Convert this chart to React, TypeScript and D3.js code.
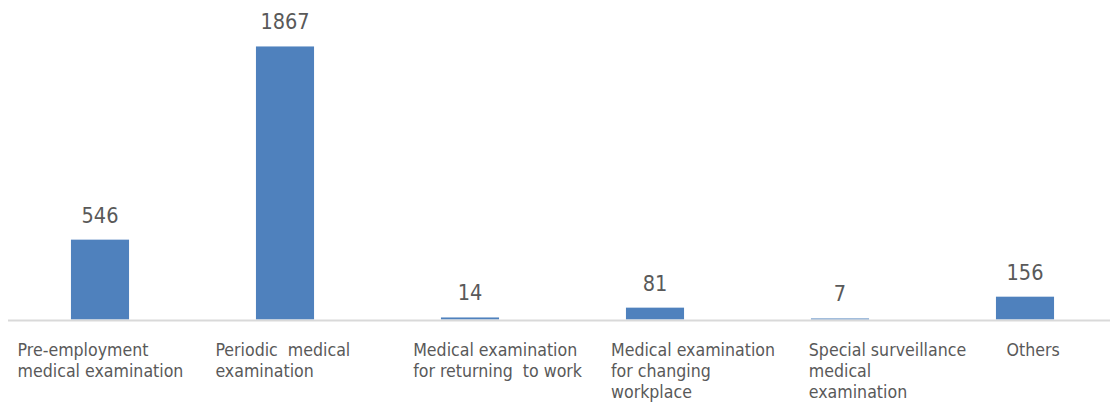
import React from "react";
import * as d3 from "d3";

const categories: string[] = [
  "Pre-employment medical examination",
  "Periodic medical examination",
  "Medical examination for returning to work",
  "Medical examination for changing workplace",
  "Special surveillance medical examination",
  "Others",
];
const labelLines: string[][] = [
  ["Pre-employment", "medical examination"],
  ["Periodic  medical", "examination"],
  ["Medical examination", "for returning  to work"],
  ["Medical examination", "for changing", "workplace"],
  ["Special surveillance", "medical", "examination"],
  ["Others"],
];
const values: number[] = [546, 1867, 14, 81, 7, 156];

const W = 1110;
const H = 403;
const FONT = "'DejaVu Sans Condensed', 'DejaVu Sans', sans-serif";

export default function App() {
  const x = d3
    .scaleBand<string>()
    .domain(categories)
    .range([7.5, 1117.5])
    .paddingInner(0.686)
    .paddingOuter(0.343);
  const y = d3.scaleLinear().domain([0, 2000]).range([319.5, 27]);
  const labelX = d3.scalePoint<string>().domain(categories).range([17.6, 1006.6]);

  return (
    <svg
      width={W}
      height={H}
      style={{ position: "absolute", left: 0, top: 0, background: "#fff" }}
      fontFamily={FONT}
    >
      <rect x={0} y={0} width={W} height={H} fill="#fff" />
      {categories.map((c, i) => (
        <rect
          key={c}
          x={x(c)!}
          y={y(values[i])}
          width={x.bandwidth()}
          height={Math.max(0, y(0) - y(values[i]))}
          fill="#4F81BD"
        />
      ))}
      <line x1={8} x2={W} y1={320.5} y2={320.5} stroke="#D9D9D9" strokeWidth={2} />
      {categories.map((c, i) => (
        <text
          key={"v" + c}
          x={x(c)! + x.bandwidth() / 2}
          y={y(values[i]) - 17}
          textAnchor="middle"
          fontSize={21.5}
          fill="#595959"
        >
          {values[i]}
        </text>
      ))}
      {categories.map((c, i) => (
        <text key={"l" + c} x={labelX(c)!} y={356} fontSize={17.6} fill="#595959" style={{ whiteSpace: "pre" }}>
          {labelLines[i].map((ln, j) => (
            <tspan key={j} x={labelX(c)!} dy={j === 0 ? 0 : 21}>
              {ln}
            </tspan>
          ))}
        </text>
      ))}
    </svg>
  );
}
